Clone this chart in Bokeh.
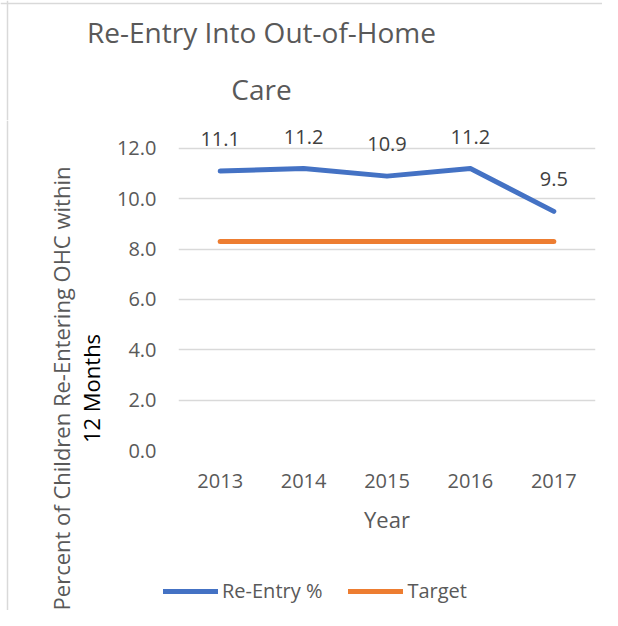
import math
from bokeh.plotting import figure
from bokeh.layouts import column, row
from bokeh.models import (ColumnDataSource, Range1d, FactorRange, FixedTicker, PrintfTickFormatter,
                          LabelSet, Label, Legend, LegendItem, Span)
from bokeh.core.properties import value
from bokeh.embed import file_html
from bokeh.resources import INLINE

years = ["2013", "2014", "2015", "2016", "2017"]
reentry = [11.1, 11.2, 10.9, 11.2, 9.5]
target = [8.3, 8.3, 8.3, 8.3, 8.3]
y_ticks = [0, 2, 4, 6, 8, 10, 12]

FONT = "Open Sans"
GRAY = "#595959"
BORDER = "#d9d9d9"
BLUE = "#4472C4"
ORANGE = "#ED7D31"

src = ColumnDataSource(dict(year=years, reentry=reentry, target=target,
                            lbl=[f"{v:.1f}" for v in reentry]))


def blank(w, h):
    f = figure(width=w, height=h, x_range=Range1d(0, w), y_range=Range1d(0, h),
               output_backend="svg", toolbar_location=None, title=None,
               x_axis_location=None, y_axis_location=None, min_border=0)
    f.outline_line_color = None
    f.grid.visible = False
    if "frame_align" in f.properties():
        f.frame_align = False
    return f


# ---- title strip -------------------------------------------------------
tf = blank(602, 120)
tf.add_layout(Span(location=7, dimension="height", line_color=BORDER, line_width=1.5))
tf.add_layout(Span(location=117, dimension="width", line_color=BORDER, line_width=1.5))
for txt, base in (("Re-Entry Into Out-of-Home", 31), ("Care", 88)):
    tf.add_layout(Label(x=261, y=120 - base, text=txt, text_font=FONT, text_font_size="28px",
                        text_color=GRAY, text_align="center", text_baseline="alphabetic"))

# ---- y-axis title strip ------------------------------------------------
yf = blank(110, 490)
yf.add_layout(Span(location=7, dimension="height", line_color=BORDER, line_width=1.5))
for txt, cx, color in (("Percent of Children Re-Entering OHC within", 60, GRAY),
                       ("12 Months", 90, "#000000")):
    yf.add_layout(Label(x=cx, y=490 - (388 - 120), text=txt, text_font=FONT,
                        text_font_size="22px", text_color=color, angle=math.pi / 2,
                        text_align="center", text_baseline="middle"))

# ---- main chart --------------------------------------------------------
p = figure(width=492, height=426, x_range=FactorRange(*years), y_range=Range1d(0, 13.11),
           output_backend="svg", toolbar_location=None, title=None,
           min_border_left=68, min_border_right=7, min_border_top=0, min_border_bottom=96)
p.outline_line_color = None
p.xgrid.grid_line_color = None
p.ygrid.grid_line_color = BORDER
p.ygrid.grid_line_width = 1.5
p.ygrid.ticker = FixedTicker(ticks=y_ticks)
p.yaxis.ticker = FixedTicker(ticks=y_ticks)
p.yaxis.formatter = PrintfTickFormatter(format="%.1f")
for ax in (p.xaxis[0], p.yaxis[0]):
    ax.axis_line_color = None
    ax.major_tick_line_color = None
    ax.minor_tick_line_color = None
    ax.major_tick_out = 0
    ax.major_tick_in = 0
    ax.major_label_text_font = FONT
    ax.major_label_text_font_size = "20px"
    ax.major_label_text_color = GRAY
    ax.axis_label_text_font = FONT
    ax.axis_label_text_font_style = "normal"
    ax.axis_label_text_font_size = "22px"
    ax.axis_label_text_color = GRAY
p.yaxis.major_label_standoff = 22
p.xaxis.major_label_standoff = 23
p.xaxis.axis_label = "Year"
p.xaxis.axis_label_standoff = 13

p.line("year", "reentry", source=src, line_color=BLUE, line_width=5,
       line_cap="round", line_join="round")
p.line("year", "target", source=src, line_color=ORANGE, line_width=5,
       line_cap="round", line_join="round")
p.add_layout(LabelSet(x="year", y="reentry", text="lbl", source=src, y_offset=32,
                      text_align="center", text_baseline="middle", text_font=value(FONT),
                      text_font_size="20px", text_color="#404040"))

# ---- legend strip ------------------------------------------------------
lf = blank(492, 64)
lf.x_range = Range1d(0, 1)
lf.y_range = Range1d(0, 1)
k1 = lf.line(list(range(len(years))), reentry, line_color=BLUE, line_width=5, line_cap="round")
k2 = lf.line(list(range(len(years))), target, line_color=ORANGE, line_width=5, line_cap="round")
lf.add_layout(Legend(items=[LegendItem(label="Re-Entry %", renderers=[k1]),
                            LegendItem(label="Target", renderers=[k2])],
                     location=(53, 6), orientation="horizontal",
                     glyph_width=55, glyph_height=20, label_standoff=4, spacing=26,
                     padding=0, margin=0, border_line_color=None, background_fill_alpha=0,
                     label_text_font=FONT, label_text_font_size="20px",
                     label_text_color=GRAY))

layout = column(tf, row(yf, column(p, lf)))
open("out.html", "w").write(file_html(layout, INLINE))
